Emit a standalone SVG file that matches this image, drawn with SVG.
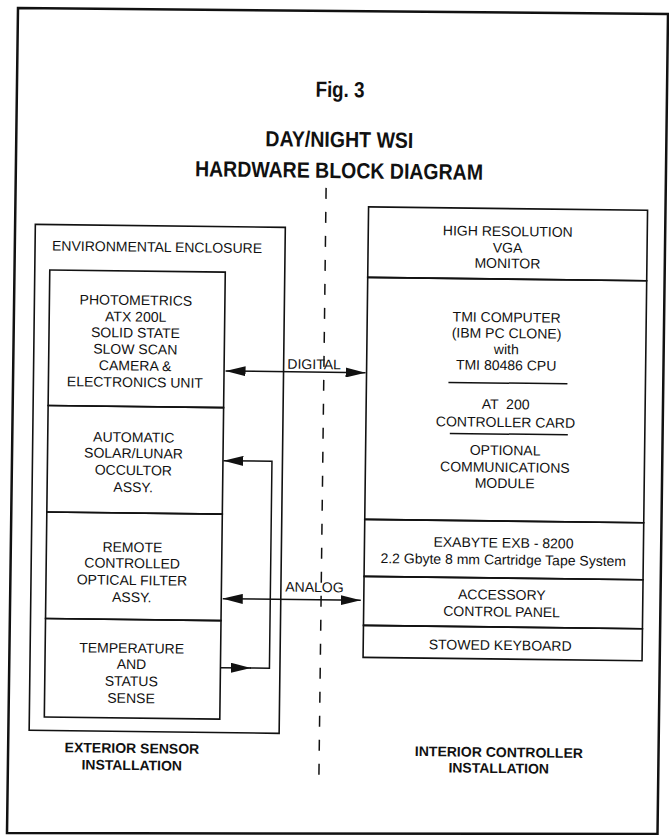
<svg xmlns="http://www.w3.org/2000/svg" width="669" height="835" viewBox="0 0 669 835">
<style>
.t{font-family:"Liberation Sans",Arial,Helvetica,sans-serif;font-size:14px;fill:#111;text-anchor:middle}
.b{font-weight:bold}
.ttl{font-family:"Liberation Sans",Arial,Helvetica,sans-serif;font-size:22px;font-weight:bold;fill:#111;text-anchor:middle}
.box{fill:none;stroke:#111;stroke-width:1.6}
.ln{fill:none;stroke:#111;stroke-width:1.5}
.conn{fill:none;stroke:#111;stroke-width:1.5}
</style>
<defs>
<marker id="ah" markerUnits="userSpaceOnUse" markerWidth="20" markerHeight="10" refX="20" refY="5" orient="auto-start-reverse">
<path d="M0,0 L20,5 L0,10 z" fill="#111"/>
</marker>
</defs>
<rect width="669" height="835" fill="#fff"/>
<polygon id="frame" points="18,8 668,14 657.5,834 7,833" fill="none" stroke="#111" stroke-width="2.5"/>
<g transform="rotate(0.7 334.5 417.5)">
<g id="title">
<text class="ttl" x="336" y="97" textLength="49" lengthAdjust="spacingAndGlyphs">Fig. 3</text>
<text class="ttl" x="336" y="147" textLength="148" lengthAdjust="spacingAndGlyphs">DAY/NIGHT WSI</text>
<text class="ttl" x="336" y="178" textLength="288" lengthAdjust="spacingAndGlyphs">HARDWARE BLOCK DIAGRAM</text>
</g>
<line id="divider" x1="323.3" y1="188" x2="323.3" y2="776" stroke="#111" stroke-width="1.5" stroke-dasharray="11 13"/>
<g id="enclosure">
<rect class="box" x="33" y="228" width="250" height="506"/>
<text class="t" x="155" y="254">ENVIRONMENTAL ENCLOSURE</text>
</g>
<g id="camera">
<rect class="box" x="48" y="273.5" width="175.5" height="135.5"/>
<text class="t" x="134.5" y="307.5">PHOTOMETRICS</text>
<text class="t" x="134.5" y="324">ATX 200L</text>
<text class="t" x="134.5" y="340">SOLID STATE</text>
<text class="t" x="134.5" y="356.5">SLOW SCAN</text>
<text class="t" x="134.5" y="373">CAMERA &amp;</text>
<text class="t" x="134.5" y="389.5">ELECTRONICS UNIT</text>
</g>
<g id="occultor">
<rect class="box" x="48" y="409" width="175.5" height="106.5"/>
<text class="t" x="134" y="444.5">AUTOMATIC</text>
<text class="t" x="134" y="460.5">SOLAR/LUNAR</text>
<text class="t" x="134" y="477.5">OCCULTOR</text>
<text class="t" x="134" y="494.5">ASSY.</text>
</g>
<g id="filter">
<rect class="box" x="48" y="515.5" width="175.5" height="106.5"/>
<text class="t" x="134" y="554.5">REMOTE</text>
<text class="t" x="134" y="570.5">CONTROLLED</text>
<text class="t" x="134" y="587.5">OPTICAL FILTER</text>
<text class="t" x="134" y="604.5">ASSY.</text>
</g>
<g id="sense">
<rect class="box" x="48" y="622" width="175.5" height="98.5"/>
<text class="t" x="134.5" y="655.5">TEMPERATURE</text>
<text class="t" x="134.5" y="671.5">AND</text>
<text class="t" x="134.5" y="688.5">STATUS</text>
<text class="t" x="134.5" y="705.5">SENSE</text>
</g>
<g id="exterior-label">
<text class="t b" x="136" y="755.5">EXTERIOR SENSOR</text>
<text class="t b" x="136" y="772.5">INSTALLATION</text>
</g>
<g id="monitor">
<rect class="box" x="366" y="206.5" width="279" height="70.5"/>
<text class="t" x="505.5" y="234">HIGH RESOLUTION</text>
<text class="t" x="505.5" y="250.5">VGA</text>
<text class="t" x="505.5" y="266">MONITOR</text>
</g>
<g id="computer">
<rect class="box" x="366" y="277" width="279" height="242"/>
<text class="t" x="505.5" y="320">TMI COMPUTER</text>
<text class="t" x="505.5" y="336">(IBM PC CLONE)</text>
<text class="t" x="505.5" y="352">with</text>
<text class="t" x="505.5" y="368">TMI 80486 CPU</text>
<line class="ln" x1="448" y1="381" x2="567" y2="381"/>
<text class="t" x="505.5" y="407" style="white-space:pre">AT  200</text>
<text class="t" x="505.5" y="425">CONTROLLER CARD</text>
<line class="ln" x1="450" y1="432" x2="568" y2="432"/>
<text class="t" x="505.5" y="453">OPTIONAL</text>
<text class="t" x="505.5" y="470">COMMUNICATIONS</text>
<text class="t" x="505.5" y="486">MODULE</text>
</g>
<g id="tape">
<rect class="box" x="366" y="519" width="279" height="57"/>
<text class="t" x="505" y="545.5">EXABYTE EXB - 8200</text>
<text class="t" x="505" y="562.5">2.2 Gbyte 8 mm Cartridge Tape System</text>
</g>
<g id="panel">
<rect class="box" x="366" y="576" width="279" height="49"/>
<text class="t" x="504" y="597.5">ACCESSORY</text>
<text class="t" x="504" y="614.5">CONTROL PANEL</text>
</g>
<g id="keyboard">
<rect class="box" x="366" y="625" width="279" height="32"/>
<text class="t" x="503" y="648">STOWED KEYBOARD</text>
</g>
<g id="interior-label">
<text class="t b" x="503" y="755">INTERIOR CONTROLLER</text>
<text class="t b" x="503" y="771">INSTALLATION</text>
</g>
<g id="connectors">
<line class="conn" x1="225" y1="372.3" x2="365" y2="372.3" marker-start="url(#ah)" marker-end="url(#ah)"/>
<text class="t" x="313.5" y="369.3">DIGITAL</text>
<line class="conn" x1="225" y1="600" x2="363" y2="600" marker-start="url(#ah)" marker-end="url(#ah)"/>
<text class="t" x="316.5" y="592.2">ANALOG</text>
<line class="conn" x1="223.5" y1="669" x2="254" y2="669" marker-end="url(#ah)"/>
<path class="conn" d="M253,669 H272.5 V462 H224" marker-end="url(#ah)"/>
</g>
</g>
</svg>
